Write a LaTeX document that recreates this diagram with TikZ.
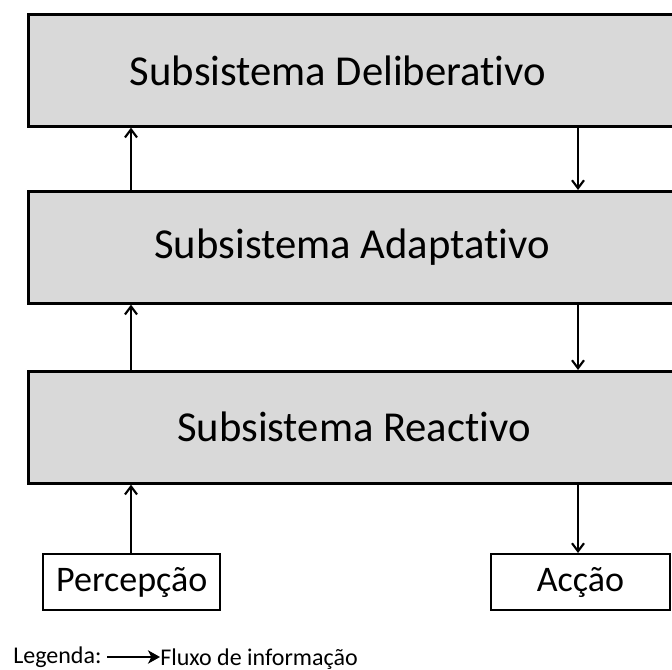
\documentclass[tikz,border=0pt]{standalone}
\usepackage{fontspec}
\setmainfont{Carlito}[Ligatures=NoCommon]
\usetikzlibrary{arrows.meta}
\begin{document}
\begin{tikzpicture}[x=0.75pt,y=-0.75pt,
  layer/.style={draw=black,line width=2pt,fill=gray!30!white,minimum height=84pt,minimum width=520pt,inner sep=0pt},
  lbl/.style={inner sep=0pt,font=\fontsize{32}{38}\selectfont},
  endbox/.style={draw=black,line width=1.6pt,fill=white,minimum height=42pt,inner sep=0pt,font=\fontsize{27}{32}\selectfont},
  legtext/.style={anchor=base west,inner sep=0pt,font=\fontsize{18}{21}\selectfont},
  flow/.style={line width=2pt,-{Straight Barb[length=6pt,width=9pt,line width=1.6pt]}}]
\useasboundingbox (0,0) rectangle (672,670);
\node[layer,anchor=north west] (d) at (27,13) {};
\node[lbl] (dl) at (338,71) {Subsistema Deliberativo};
\node[layer,anchor=north west] (a) at (27,190) {};
\node[lbl] (al) at (352,247) {Subsistema Adaptativo};
\node[layer,anchor=north west] (r) at (27,370) {};
\node[lbl] (rl) at (354,427) {Subsistema Reactivo};
\node[endbox,minimum width=133pt,anchor=north west] (p) at (42,553) {Percepção};
\node[endbox,minimum width=134pt,anchor=north west] (c) at (490,553) {Acção};
\draw[flow] (p.north -| 131,0) -- (r.south -| 131,0);
\draw[flow] (r.north -| 131,0) -- (a.south -| 131,0);
\draw[flow] (a.north -| 131,0) -- (d.south -| 131,0);
\draw[flow] (d.south -| 578,0) -- (a.north -| 578,0);
\draw[flow] (a.south -| 578,0) -- (r.north -| 578,0);
\draw[flow] (r.south -| 578,0) -- (c.north -| 578,0);
\node[legtext] (lg) at (13,663) {Legenda:};
\coordinate (la) at (107,657);
\node[legtext] (lf) at (160,665) {Fluxo de informação};
\draw[line width=1.8pt,-{Stealth[length=9pt,width=10pt,inset=2.5pt]}] (la) -- (lf.west |- la);
\end{tikzpicture}
\end{document}
